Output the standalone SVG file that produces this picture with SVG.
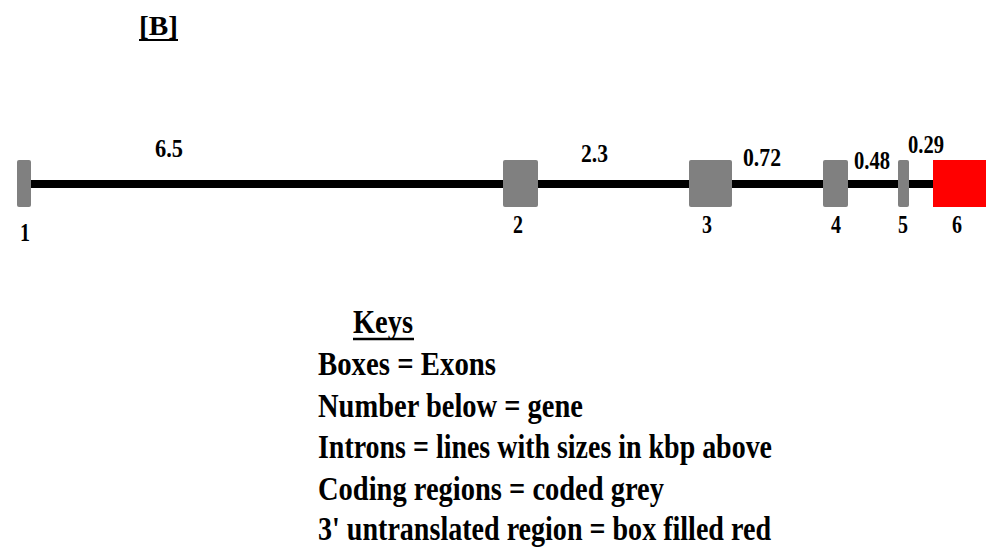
<svg xmlns="http://www.w3.org/2000/svg" width="988" height="555" viewBox="0 0 988 555">
<style>
text{font-family:"Liberation Serif","Times New Roman",serif;font-weight:bold;fill:#000}
.n{font-size:25px}
.k{font-size:33px}
.ex{fill:#808080}
.utr{fill:#ff0000}
</style>
<rect width="988" height="555" fill="#fff"/>
<g id="title">
<text x="139" y="35" font-size="27" textLength="39" lengthAdjust="spacingAndGlyphs">[B]</text>
<line x1="139" y1="40" x2="178" y2="40" stroke="#000" stroke-width="2"/>
</g>
<g id="connectors">
<line x1="28" y1="184" x2="936" y2="184" stroke="#000" stroke-width="8"/>
</g>
<g id="intron-labels">
<text class="n" x="155" y="157" textLength="28" lengthAdjust="spacingAndGlyphs">6.5</text>
<text class="n" x="581" y="162" textLength="27" lengthAdjust="spacingAndGlyphs">2.3</text>
<text class="n" x="743" y="166" textLength="38" lengthAdjust="spacingAndGlyphs">0.72</text>
<text class="n" x="854" y="169" textLength="36" lengthAdjust="spacingAndGlyphs">0.48</text>
<text class="n" x="908" y="153" textLength="36" lengthAdjust="spacingAndGlyphs">0.29</text>
</g>
<g id="exon1"><rect class="ex" x="17" y="160" width="14" height="47" rx="2"/><text class="n" x="25" y="241" text-anchor="middle" textLength="10" lengthAdjust="spacingAndGlyphs">1</text></g>
<g id="exon2"><rect class="ex" x="503" y="160" width="35" height="47" rx="2"/><text class="n" x="518" y="233" text-anchor="middle" textLength="10" lengthAdjust="spacingAndGlyphs">2</text></g>
<g id="exon3"><rect class="ex" x="689" y="160" width="43" height="47" rx="2"/><text class="n" x="707" y="233" text-anchor="middle" textLength="10" lengthAdjust="spacingAndGlyphs">3</text></g>
<g id="exon4"><rect class="ex" x="823" y="160" width="25" height="47" rx="2"/><text class="n" x="836" y="233" text-anchor="middle" textLength="10" lengthAdjust="spacingAndGlyphs">4</text></g>
<g id="exon5"><rect class="ex" x="898" y="160" width="11" height="47" rx="2"/><text class="n" x="903" y="233" text-anchor="middle" textLength="10" lengthAdjust="spacingAndGlyphs">5</text></g>
<g id="exon6"><rect class="utr" x="933" y="160" width="53" height="47"/><text class="n" x="957" y="233" text-anchor="middle" textLength="10" lengthAdjust="spacingAndGlyphs">6</text></g>
<g id="keys">
<text class="k" x="353" y="333" textLength="60" lengthAdjust="spacingAndGlyphs">Keys</text>
<line x1="353" y1="339" x2="414" y2="339" stroke="#000" stroke-width="2.5"/>
<text class="k" x="318" y="375" textLength="178" lengthAdjust="spacingAndGlyphs">Boxes = Exons</text>
<text class="k" x="318" y="417" textLength="265" lengthAdjust="spacingAndGlyphs">Number below = gene</text>
<text class="k" x="318" y="458" textLength="454" lengthAdjust="spacingAndGlyphs">Introns = lines with sizes in kbp above</text>
<text class="k" x="318" y="500" textLength="346" lengthAdjust="spacingAndGlyphs">Coding regions = coded grey</text>
<text class="k" x="318" y="540" textLength="453" lengthAdjust="spacingAndGlyphs">3' untranslated region = box filled red</text>
</g>
</svg>
